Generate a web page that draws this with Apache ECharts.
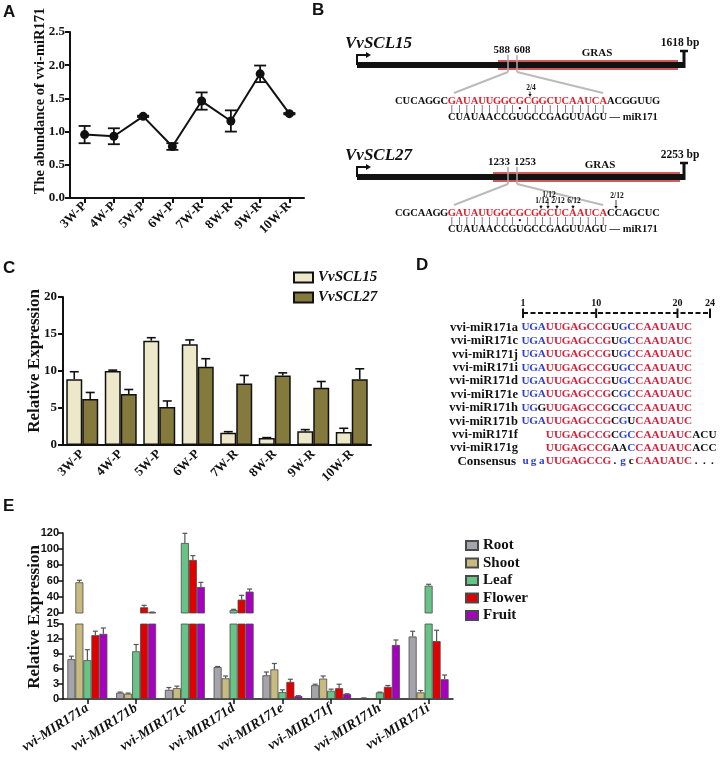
<!DOCTYPE html>
<html>
<head>
<meta charset="utf-8">
<title>vvi-miR171</title>
<script src="https://cdn.jsdelivr.net/npm/echarts@6.0.0/dist/echarts.min.js"></script>
<style>
html, body { margin: 0; padding: 0; background: #fff; }
#main { width: 722px; height: 767px; }
</style>
</head>
<body>
<div id="main"></div>
<script>
var SERIF = '"Liberation Serif", "Times New Roman", serif';
var SANS = '"Liberation Sans", Arial, sans-serif';

// A: abundance of vvi-miR171
var stageNames = ['3W-P', '4W-P', '5W-P', '6W-P', '7W-R', '8W-R', '9W-R', '10W-R'];
var mirAbundance = [0.955, 0.93, 1.23, 0.775, 1.46, 1.16, 1.87, 1.27];
var mirAbundanceErr = [0.13, 0.12, 0.01, 0.05, 0.13, 0.16, 0.125, 0.01];

// B: target sites
var sclGenes = ['VvSCL15', 'VvSCL27'];
var sclLengths = ['1618 bp', '2253 bp'];
var siteStart = ['588', '1233'];
var siteEnd = ['608', '1253'];
var siteSeqs = ['CUCAGGCGAUAUUGGCGCGGCUCAAUCAACGGUUG', 'CGCAAGGGAUAUUGGCGCGGCUCAAUCACCAGCUC'];
var mirSeq = 'CUAUAACCGUGCCGAGUUAGU';
var cleaveLabels = [['2/4'], ['1/12', '1/12', '2/12', '6/12', '2/12']];

// C: VvSCL15 / VvSCL27 expression
var scl15Expr = [8.9, 10.0, 14.1, 13.6, 1.67, 0.95, 1.85, 1.76];
var scl15Err = [1.0, 0.12, 0.4, 0.6, 0.13, 0.05, 0.23, 0.5];
var scl27Expr = [6.2, 6.9, 5.15, 10.56, 8.3, 9.4, 7.72, 8.9];
var scl27Err = [0.9, 0.6, 0.8, 1.1, 1.1, 0.35, 0.86, 1.4];

// D: alignment
var alignNames = ['vvi-miR171a', 'vvi-miR171c', 'vvi-miR171j', 'vvi-miR171i', 'vvi-miR171d', 'vvi-miR171e',
    'vvi-miR171h', 'vvi-miR171b', 'vvi-miR171f', 'vvi-miR171g', 'Consensus'];
var alignStart = [1, 1, 1, 1, 1, 1, 1, 1, 4, 4, 1];
var alignSeqs = ['UGAUUGAGCCGUGCCAAUAUC', 'UGAUUGAGCCGUGCCAAUAUC', 'UGAUUGAGCCGUGCCAAUAUC', 'UGAUUGAGCCGUGCCAAUAUC',
    'UGAUUGAGCCGUGCCAAUAUC', 'UGAUUGAGCCGCGCCAAUAUC', 'UGGUUGAGCCGCGCCAAUAUC', 'UGAUUGAGCCGCGUCAAUAUC',
    'UUGAGCCGCGCCAAUAUCACU', 'UUGAGCCGAACCAAUAUCACC', 'ugaUUGAGCCG.gcCAAUAUC...'];
var alignMarks = ['bbbrrrrrrrrkbbrrrrrrr', 'bbbrrrrrrrrkbbrrrrrrr', 'bbbrrrrrrrrkbbrrrrrrr', 'bbbrrrrrrrrkbbrrrrrrr',
    'bbbrrrrrrrrkbbrrrrrrr', 'bbbrrrrrrrrkbbrrrrrrr', 'bbkrrrrrrrrkbbrrrrrrr', 'bbbrrrrrrrrkbkrrrrrrr',
    'rrrrrrrrkbbrrrrrrrkkk', 'rrrrrrrrkkbrrrrrrrkkk', 'bbbrrrrrrrrkbkrrrrrrrkkk'];
var rulerTicks = [1, 10, 20, 24];

// E: MIR171 in tissues
var mirGenes = ['vvi-MIR171a', 'vvi-MIR171b', 'vvi-MIR171c', 'vvi-MIR171d', 'vvi-MIR171e', 'vvi-MIR171f', 'vvi-MIR171h', 'vvi-MIR171i'];
var tissueNames = ['Root', 'Shoot', 'Leaf', 'Flower', 'Fruit'];
var rootExpr = [7.96, 1.25, 1.84, 6.38, 4.74, 2.76, 0.2, 12.5];
var rootErr = [0.6, 0.13, 0.46, 0.12, 0.66, 0.2, 0.02, 1.05];
var shootExpr = [58.4, 1.05, 2.17, 4.14, 5.92, 4.08, 0.05, 1.32];
var shootErr = [2.5, 0.13, 0.4, 0.46, 1.18, 0.52, 0, 0.38];
var leafExpr = [7.76, 9.54, 107.5, 23.75, 1.38, 1.64, 1.32, 54.1];
var leafErr = [2.1, 1.36, 12.1, 0.85, 0.46, 0.33, 0.06, 1.8];
var flowerExpr = [12.76, 27.1, 86.3, 36.7, 3.42, 2.17, 2.43, 11.58];
var flowerErr = [0.8, 2.5, 5.4, 5.4, 0.53, 0.79, 0.27, 2.17];
var fruitExpr = [13.03, 20.9, 52.5, 46.7, 0.59, 0.99, 10.8, 3.95];
var fruitErr = [1.17, 0.3, 5.8, 3.3, 0.07, 0.06, 1.0, 0.85];

var tissueExpr = [rootExpr, shootExpr, leafExpr, flowerExpr, fruitExpr];
var tissueErr = [rootErr, shootErr, leafErr, flowerErr, fruitErr];
var tissueColors = ['#A4A4AA', '#C8BB80', '#68C387', '#E10000', '#A600C0'];

var INK = '#111';

// ---------- axes ----------
function catAxis(gi, names, cfg) {
    return {
        type: 'category', gridIndex: gi, data: names, show: cfg.show !== false,
        axisLine: { lineStyle: { color: INK, width: cfg.lw } },
        axisTick: { show: cfg.tick, alignWithLabel: true, length: 5, lineStyle: { color: INK, width: cfg.lw } },
        axisLabel: {
            interval: 0, rotate: cfg.rotate, margin: cfg.margin, color: INK,
            fontFamily: SERIF, fontWeight: 'bold', fontStyle: cfg.italic ? 'italic' : 'normal', fontSize: cfg.fs
        },
        splitLine: { show: false }
    };
}

function valAxis(gi, min, max, step, cfg) {
    return {
        type: 'value', gridIndex: gi, min: min, max: max, interval: step,
        axisLine: { show: true, lineStyle: { color: INK, width: cfg.lw } },
        axisTick: { show: true, length: 5, lineStyle: { color: INK, width: cfg.lw } },
        axisLabel: {
            margin: cfg.margin, color: INK, fontFamily: cfg.font, fontWeight: 'bold', fontSize: cfg.fs,
            formatter: cfg.formatter
        },
        splitLine: { show: false }
    };
}

// ---------- error bars ----------
function errorBars(xi, yi, vals, errs, shift, cfg) {
    var data = [];
    for (var i = 0; i < vals.length; i++) {
        if (cfg.keep(vals[i])) data.push([i, vals[i], errs[i]]);
    }
    return {
        type: 'custom', xAxisIndex: xi, yAxisIndex: yi, silent: true, z: cfg.z || 3,
        data: data, encode: { x: 0, y: 1 },
        renderItem: function (params, api) {
            var idx = api.value(0), v = api.value(1), e = api.value(2);
            var cw = api.size([1, 0])[0];
            var base = api.coord([idx, v]);
            var hi = api.coord([idx, v + e]);
            var x = base[0] + shift * cw;
            var h = cfg.cap / 2;
            function ln(x1, y1, x2, y2) {
                return { type: 'line', shape: { x1: x1, y1: y1, x2: x2, y2: y2 }, style: { stroke: cfg.color, lineWidth: cfg.width } };
            }
            var kids = [ln(x, base[1], x, hi[1]), ln(x - h, hi[1], x + h, hi[1])];
            if (cfg.both) {
                var lo = api.coord([idx, v - e]);
                kids.push(ln(x, base[1], x, lo[1]));
                kids.push(ln(x - h, lo[1], x + h, lo[1]));
            }
            return { type: 'group', children: kids };
        }
    };
}

var series = [];

// A
series.push(errorBars(0, 0, mirAbundance, mirAbundanceErr, 0, {
    keep: function () { return true; }, both: true, cap: 12, color: INK, width: 1.8, z: 1
}));
series.push({
    type: 'line', xAxisIndex: 0, yAxisIndex: 0, data: mirAbundance, z: 2,
    symbol: 'circle', symbolSize: 9, itemStyle: { color: INK }, lineStyle: { color: INK, width: 2 }
});

// C
series.push({
    type: 'bar', name: 'VvSCL15', xAxisIndex: 1, yAxisIndex: 1, data: scl15Expr,
    barGap: '0%', barCategoryGap: '17%',
    itemStyle: { color: '#EDE8C9', borderColor: INK, borderWidth: 1.5 }
});
series.push({
    type: 'bar', name: 'VvSCL27', xAxisIndex: 1, yAxisIndex: 1, data: scl27Expr,
    barGap: '0%', barCategoryGap: '17%',
    itemStyle: { color: '#857A3E', borderColor: INK, borderWidth: 1.5 }
});
series.push(errorBars(1, 1, scl15Expr, scl15Err, -0.2075, { keep: function () { return true; }, cap: 9, color: INK, width: 1.6 }));
series.push(errorBars(1, 1, scl27Expr, scl27Err, 0.2075, { keep: function () { return true; }, cap: 9, color: INK, width: 1.6 }));

// E  (broken axis: grid 2 upper 20-120, grid 3 lower 0-15)
for (var t = 0; t < tissueNames.length; t++) {
    var shift = -0.41 + 0.164 * (t + 0.5);
    var barStyle = { color: tissueColors[t], borderColor: '#4a4a4a', borderWidth: 0.8 };
    series.push({
        type: 'bar', name: tissueNames[t], xAxisIndex: 3, yAxisIndex: 3, data: tissueExpr[t], clip: true,
        barGap: '0%', barCategoryGap: '18%', itemStyle: barStyle
    });
    series.push({
        type: 'bar', name: tissueNames[t], xAxisIndex: 2, yAxisIndex: 2, clip: true,
        data: tissueExpr[t].map(function (v) { return v > 20 ? v : '-'; }),
        barGap: '0%', barCategoryGap: '18%', itemStyle: barStyle
    });
    series.push(errorBars(3, 3, tissueExpr[t], tissueErr[t], shift, {
        keep: function (v) { return v <= 15; }, cap: 5, color: '#555', width: 1.2
    }));
    series.push(errorBars(2, 2, tissueExpr[t], tissueErr[t], shift, {
        keep: function (v) { return v > 20; }, cap: 5, color: '#555', width: 1.2
    }));
}

// ---------- graphic: labels, B schematic, D alignment ----------
var g = [];

function txt(x, y, s, font, opt) {
    opt = opt || {};
    g.push({
        type: 'text', x: x, y: y, rotation: opt.rot || 0, z: 10, silent: true,
        style: {
            text: s, font: font, fill: opt.fill || INK, rich: opt.rich,
            align: opt.align || 'left', verticalAlign: opt.va || 'middle',
            textAlign: opt.align || 'left', textVerticalAlign: opt.va || 'middle'
        }
    });
}
function seg(x1, y1, x2, y2, color, w, dash) {
    g.push({
        type: 'line', z: 10, silent: true, shape: { x1: x1, y1: y1, x2: x2, y2: y2 },
        style: { stroke: color, lineWidth: w, lineDash: dash || null }
    });
}
function box(x, y, w, h, fill) {
    g.push({ type: 'rect', z: 9, silent: true, shape: { x: x, y: y, width: w, height: h }, style: { fill: fill } });
}
function tri(pts, fill) {
    g.push({ type: 'polygon', z: 10, silent: true, shape: { points: pts }, style: { fill: fill } });
}
function richRow(str, cls) {
    var out = '';
    for (var i = 0; i < str.length; i++) out += '{' + cls[i] + '|' + str[i] + '}';
    return out;
}

// panel letters
var letterFont = 'bold 17px ' + SANS;
txt(3, 12.5, 'A', letterFont);
txt(312, 10.5, 'B', letterFont);
txt(3, 268, 'C', letterFont);
txt(416, 265, 'D', letterFont);
txt(3, 506, 'E', letterFont);

// axis titles
txt(40, 101, 'The abundance of vvi-miR171', 'bold 14.5px ' + SERIF, { rot: Math.PI / 2, align: 'center' });
txt(35, 361, 'Relative Expression', 'bold 17px ' + SERIF, { rot: Math.PI / 2, align: 'center' });
txt(35, 617, 'Relative Expression', 'bold 17px ' + SERIF, { rot: Math.PI / 2, align: 'center' });

// B schematic
var bLayout = [
    { y: 65, grasFrom: 498, grasTo: 678, grasX: 597, marks: [{ x: 530, dy: 23 }] },
    { y: 177, grasFrom: 493, grasTo: 680, grasX: 600,
      marks: [{ x: 548, dy: 18.5 }, { x: 541, dy: 24.5 }, { x: 557, dy: 24.5 }, { x: 573, dy: 24.5 }, { x: 616, dy: 19.5 }] }
];
var CH_B = 7.57, SEQ_X = 395;
var bRich = {
    k: { fill: INK, font: 'bold 10.5px ' + SERIF, width: CH_B, align: 'center' },
    r: { fill: '#E3202C', font: 'bold 10.5px ' + SERIF, width: CH_B, align: 'center' },
    p: { fill: INK, font: 'bold 8px ' + SERIF, width: CH_B, align: 'center' },
    t: { fill: INK, font: 'bold 10.5px ' + SERIF }
};
for (var k = 0; k < sclGenes.length; k++) {
    var L = bLayout[k], Y = L.y;
    txt(345, Y - 21, sclGenes[k], 'italic bold 17px ' + SERIF);
    // start arrow
    seg(357, Y, 357, Y - 10, INK, 2);
    seg(356, Y - 10, 367, Y - 10, INK, 2);
    tri([[366, Y - 13], [371, Y - 10], [366, Y - 7]], INK);
    // GRAS domain + backbone
    box(L.grasFrom, Y - 5, L.grasTo - L.grasFrom, 10, '#D05A5A');
    box(357, Y - 3, 327, 6, INK);
    // end cap
    seg(684, Y + 3, 684, Y - 14, INK, 3);
    seg(680, Y - 14, 688, Y - 14, INK, 2.5);
    txt(L.grasX, Y - 12, 'GRAS', 'bold 11px ' + SERIF, { align: 'center' });
    txt(680, Y - 21.5, sclLengths[k], 'bold 11.5px ' + SERIF, { align: 'center' });
    txt(510, Y - 15, siteStart[k], 'bold 11px ' + SERIF, { align: 'right' });
    txt(514, Y - 15, siteEnd[k], 'bold 11px ' + SERIF, { align: 'left' });
    seg(508, Y - 10, 508, Y + 7, '#AAAAAA', 1.5);
    seg(517, Y - 10, 517, Y + 7, '#AAAAAA', 1.5);
    seg(508, Y + 7, 454, Y + 28, '#BBBBBB', 2);
    seg(517, Y + 7, 603, Y + 28, '#BBBBBB', 2);
    // cleavage marks
    for (var m = 0; m < L.marks.length; m++) {
        var mk = L.marks[m];
        txt(mk.x + 1, Y + mk.dy, cleaveLabels[k][m], 'bold 7.5px ' + SERIF, { align: 'center' });
        seg(mk.x, Y + mk.dy + 3.5, mk.x, Y + 30, INK, 0.8);
        tri([[mk.x - 1.6, Y + 29], [mk.x + 1.6, Y + 29], [mk.x, Y + 32]], INK);
    }
    // target sequence
    var seq = siteSeqs[k], cls = '';
    for (var c = 0; c < seq.length; c++) cls += (c >= 7 && c < 28) ? 'r' : 'k';
    txt(SEQ_X, Y + 36.5, richRow(seq, cls), 'bold 10.5px ' + SERIF, { rich: bRich });
    var pairs = '', pcls = '';
    for (var q = 0; q < mirSeq.length; q++) { pairs += (q === 9 ? '\u2022' : '|'); pcls += 'p'; }
    txt(SEQ_X + 7 * CH_B, Y + 44, richRow(pairs, pcls), 'bold 8px ' + SERIF, { rich: bRich });
    var mcls = '';
    for (var q2 = 0; q2 < mirSeq.length; q2++) mcls += 'k';
    txt(SEQ_X + 7 * CH_B, Y + 52, richRow(mirSeq, mcls) + '{t| \u2014 miR171}', 'bold 10.5px ' + SERIF, { rich: bRich });
}

// D alignment
var CH_D = 8.13;
function rx(p) { return 523 + (p - 1) * CH_D; }
seg(rx(1), 313, rx(24), 313, INK, 2, [5, 2.5]);
for (var r = 0; r < rulerTicks.length; r++) {
    var px = rx(rulerTicks[r]);
    seg(px, 308.5, px, 318, INK, 2);
    txt(px, 303, String(rulerTicks[r]), 'bold 10px ' + SERIF, { align: 'center' });
}
var dRich = {
    b: { fill: '#2F3FD0', font: 'bold 11.2px ' + SERIF, width: CH_D, align: 'center' },
    r: { fill: '#D9203A', font: 'bold 11.2px ' + SERIF, width: CH_D, align: 'center' },
    k: { fill: INK, font: 'bold 11.2px ' + SERIF, width: CH_D, align: 'center' }
};
for (var a = 0; a < alignNames.length; a++) {
    var ry = 327.5 + a * 13.4;
    var isCons = alignNames[a] === 'Consensus';
    txt(isCons ? 516 : 518, ry, alignNames[a], 'bold ' + (isCons ? 13 : 12.5) + 'px ' + SERIF, { align: 'right' });
    txt(rx(alignStart[a]) + 2.5 - CH_D / 2, ry, richRow(alignSeqs[a], alignMarks[a]), 'bold 11.2px ' + SERIF, { rich: dRich });
}

var option = {
    animation: false,
    backgroundColor: '#fff',
    textStyle: { fontFamily: SERIF },
    grid: [
        { left: 70, top: 32, width: 234, height: 166, outerBoundsMode: 'none' },
        { left: 63, top: 297, width: 308, height: 148, outerBoundsMode: 'none' },
        { left: 63, top: 533, width: 390, height: 80, outerBoundsMode: 'none' },
        { left: 63, top: 624, width: 390, height: 75, outerBoundsMode: 'none' }
    ],
    xAxis: [
        catAxis(0, stageNames, { lw: 2, tick: true, rotate: 45, margin: 6, fs: 13 }),
        catAxis(1, stageNames, { lw: 2, tick: false, rotate: 45, margin: 7, fs: 13 }),
        catAxis(2, mirGenes, { show: false, lw: 1.5, tick: false, rotate: 0, margin: 6, fs: 13 }),
        catAxis(3, mirGenes, { lw: 1.5, tick: true, rotate: 33, margin: 8, fs: 14, italic: true })
    ],
    yAxis: [
        valAxis(0, 0, 2.5, 0.5, { lw: 2, margin: 5, fs: 13, font: SERIF, formatter: function (v) { return v.toFixed(1); } }),
        valAxis(1, 0, 20, 5, { lw: 2, margin: 6, fs: 13, font: SERIF }),
        valAxis(2, 20, 120, 20, { lw: 1.5, margin: 4, fs: 11, font: SANS }),
        valAxis(3, 0, 15, 3, { lw: 1.5, margin: 4, fs: 11, font: SANS })
    ],
    legend: [
        {
            data: ['VvSCL15', 'VvSCL27'], orient: 'vertical', left: 288, top: 265,
            icon: 'rect', itemWidth: 19, itemHeight: 10, itemGap: 5, selectedMode: false,
            textStyle: { color: INK, fontFamily: SERIF, fontStyle: 'italic', fontWeight: 'bold', fontSize: 15, lineHeight: 15 }
        },
        {
            data: tissueNames, orient: 'vertical', left: 460, top: 533,
            icon: 'rect', itemWidth: 12, itemHeight: 9, itemGap: 2.5, selectedMode: false,
            textStyle: { color: INK, fontFamily: SERIF, fontWeight: 'bold', fontSize: 15, lineHeight: 15 }
        }
    ],
    series: series,
    graphic: { elements: g }
};

var chart = echarts.init(document.getElementById('main'), null, { renderer: 'canvas' });
chart.setOption(option);
</script>
</body>
</html>
